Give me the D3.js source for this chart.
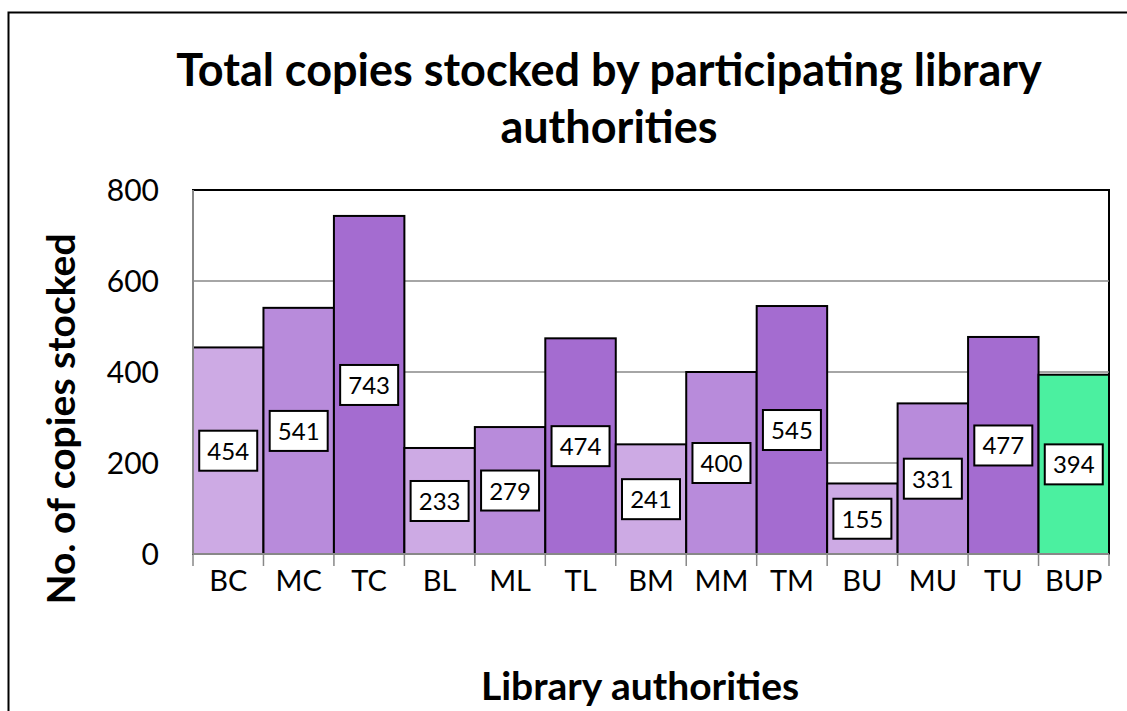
<!DOCTYPE html>
<html>
<head>
<meta charset="utf-8">
<script src="https://cdn.jsdelivr.net/npm/d3@7.9.0/dist/d3.min.js"></script>
<style>
  body { margin: 0; background: #fff; }
  svg { display: block; font-family: Lato, 'Open Sans', sans-serif; }
</style>
</head>
<body>
<svg id="chart" width="1127" height="711"></svg>
<script>
const categories = ['BC', 'MC', 'TC', 'BL', 'ML', 'TL', 'BM', 'MM', 'TM', 'BU', 'MU', 'TU', 'BUP'];
const copies = [454, 541, 743, 233, 279, 474, 241, 400, 545, 155, 331, 477, 394];
const shades = ['light', 'mid', 'dark', 'light', 'mid', 'dark', 'light', 'mid', 'dark', 'light', 'mid', 'dark', 'green'];
const yTicks = [0, 200, 400, 600, 800];

const shadeColor = {
  light: '#cdaae4',
  mid: '#b88bdb',
  dark: '#a46cd0',
  green: '#4bf0a0'
};

const svg = d3.select('#chart');

// outer chart frame, runs off the right and bottom of the picture
svg.append('rect')
  .attr('x', 8.5).attr('y', 12.5)
  .attr('width', 1200).attr('height', 800)
  .attr('fill', 'none').attr('stroke', '#000').attr('stroke-width', 2);

const x = d3.scaleBand().domain(categories).range([193, 1109]).paddingInner(0).paddingOuter(0);
const y = d3.scaleLinear().domain([0, 800]).range([554, 190]);

// plot frame + gridlines
svg.append('rect')
  .attr('x', 193).attr('y', y(800))
  .attr('width', 1109 - 193).attr('height', y(0) - y(800))
  .attr('fill', 'none').attr('stroke', '#000').attr('stroke-width', 2);

svg.selectAll('.grid')
  .data(yTicks.filter((d) => d > 0 && d < 800))
  .join('line')
  .attr('x1', 193).attr('x2', 1109)
  .attr('y1', (d) => y(d)).attr('y2', (d) => y(d))
  .attr('stroke', '#888').attr('stroke-width', 1.5);

// bars
svg.selectAll('.bar')
  .data(categories)
  .join('rect')
  .attr('x', (d) => x(d))
  .attr('y', (d, i) => y(copies[i]))
  .attr('width', x.bandwidth())
  .attr('height', (d, i) => y(0) - y(copies[i]))
  .attr('fill', (d, i) => shadeColor[shades[i]])
  .attr('stroke', '#000').attr('stroke-width', 2);

// axes lines
svg.append('line')
  .attr('x1', 193).attr('x2', 193).attr('y1', y(800)).attr('y2', y(0))
  .attr('stroke', '#888').attr('stroke-width', 2);
svg.append('line')
  .attr('x1', 193).attr('x2', 1109).attr('y1', y(0)).attr('y2', y(0))
  .attr('stroke', '#888').attr('stroke-width', 2);

// x tick marks at band edges
const edges = categories.map((c) => x(c)).concat([x(categories[categories.length - 1]) + x.bandwidth()]);
svg.selectAll('.xtick')
  .data(edges)
  .join('line')
  .attr('x1', (d) => d).attr('x2', (d) => d)
  .attr('y1', y(0)).attr('y2', y(0) + 12)
  .attr('stroke', '#888').attr('stroke-width', 1.5);

// x labels
svg.selectAll('.xlab')
  .data(categories)
  .join('text')
  .attr('x', (d) => x(d) + x.bandwidth() / 2)
  .attr('y', 591)
  .attr('text-anchor', 'middle')
  .attr('font-size', 29)
  .text((d) => d);

// y labels
svg.selectAll('.ylab')
  .data(yTicks)
  .join('text')
  .attr('x', 159)
  .attr('y', (d) => y(d) + 11)
  .attr('text-anchor', 'end')
  .attr('font-size', 30)
  .text((d) => d);

// value boxes
const boxes = svg.selectAll('.vbox')
  .data(categories)
  .join('g')
  .attr('transform', (d, i) => `translate(${x(d) + x.bandwidth() / 2},${y(copies[i] / 2)})`);
boxes.append('rect')
  .attr('x', -29).attr('y', -20)
  .attr('width', 58).attr('height', 40)
  .attr('fill', '#fff').attr('stroke', '#000').attr('stroke-width', 2);
boxes.append('text')
  .attr('text-anchor', 'middle')
  .attr('y', 9)
  .attr('font-size', 24)
  .text((d, i) => copies[i]);

// titles
svg.append('text')
  .attr('x', 609).attr('y', 86)
  .attr('text-anchor', 'middle')
  .attr('font-size', 45).attr('font-weight', 'bold')
  .text('Total copies stocked by participating library');
svg.append('text')
  .attr('x', 609).attr('y', 143)
  .attr('text-anchor', 'middle')
  .attr('font-size', 45).attr('font-weight', 'bold')
  .text('authorities');

svg.append('text')
  .attr('x', 640).attr('y', 700)
  .attr('text-anchor', 'middle')
  .attr('font-size', 39).attr('font-weight', 'bold')
  .text('Library authorities');

svg.append('text')
  .attr('transform', 'translate(75,419) rotate(-90)')
  .attr('text-anchor', 'middle')
  .attr('font-size', 39).attr('font-weight', 'bold')
  .text('No. of copies stocked');
</script>
</body>
</html>
